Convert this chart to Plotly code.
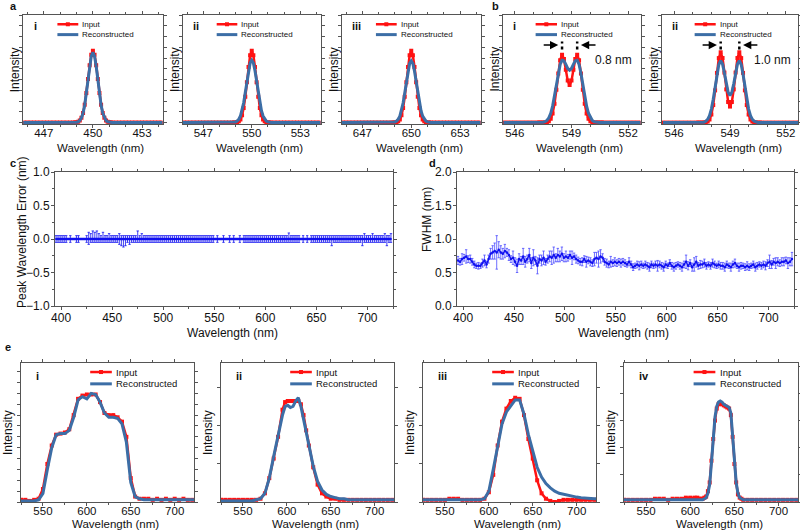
import plotly.graph_objects as go

# ---------------- data ----------------
# a: single peaks (i 450 nm, ii 550 nm, iii 650 nm)
A1_WL = [445.6, 445.8, 446.0, 446.2, 446.4, 446.6, 446.8, 447.0, 447.2, 447.4, 447.6, 447.8, 448.0, 448.2, 448.4, 448.6, 448.8,
         448.9, 449.0, 449.1, 449.2, 449.3, 449.4, 449.5, 449.6, 449.7, 449.8, 449.9, 450.0, 450.1, 450.2, 450.3, 450.4, 450.5,
         450.6, 450.7, 450.8, 450.9, 451.0, 451.1,
         451.2, 451.4, 451.6, 451.8, 452.0, 452.2, 452.4, 452.6, 452.8, 453.0, 453.2, 453.4, 453.6, 453.8, 454.0, 454.2, 454.4]
A2_WL = [545.6, 545.8, 546.0, 546.2, 546.4, 546.6, 546.8, 547.0, 547.2, 547.4, 547.6, 547.8, 548.0, 548.2, 548.4, 548.6, 548.8,
         548.9, 549.0, 549.1, 549.2, 549.3, 549.4, 549.5, 549.6, 549.7, 549.8, 549.9, 550.0, 550.1, 550.2, 550.3, 550.4, 550.5,
         550.6, 550.7, 550.8, 550.9, 551.0, 551.1,
         551.2, 551.4, 551.6, 551.8, 552.0, 552.2, 552.4, 552.6, 552.8, 553.0, 553.2, 553.4, 553.6, 553.8, 554.0, 554.2, 554.4]
A3_WL = [645.6, 645.8, 646.0, 646.2, 646.4, 646.6, 646.8, 647.0, 647.2, 647.4, 647.6, 647.8, 648.0, 648.2, 648.4, 648.6, 648.8,
         648.9, 649.0, 649.1, 649.2, 649.3, 649.4, 649.5, 649.6, 649.7, 649.8, 649.9, 650.0, 650.1, 650.2, 650.3, 650.4, 650.5,
         650.6, 650.7, 650.8, 650.9, 651.0, 651.1,
         651.2, 651.4, 651.6, 651.8, 652.0, 652.2, 652.4, 652.6, 652.8, 653.0, 653.2, 653.4, 653.6, 653.8, 654.0, 654.2, 654.4]
A1_IN = [0, 0, 0, 0, 0, 0, 0, 0, 0, 0, 0, 0, 0, 0, 0, 0, 0,
         0.001, 0.004, 0.011, 0.029, 0.066, 0.135, 0.249, 0.411, 0.607, 0.801, 0.946, 1.0, 0.946, 0.801, 0.607, 0.411, 0.249,
         0.135, 0.066, 0.029, 0.011, 0.004, 0.001,
         0, 0, 0, 0, 0, 0, 0, 0, 0, 0, 0, 0, 0, 0, 0, 0, 0]
A1_REC = [0, 0, 0, 0, 0, 0, 0, 0, 0, 0, 0, 0, 0, 0, 0, 0, 0,
          0.001, 0.004, 0.011, 0.028, 0.065, 0.132, 0.244, 0.403, 0.595, 0.785, 0.927, 0.98, 0.927, 0.785, 0.595, 0.403, 0.244,
          0.132, 0.065, 0.028, 0.011, 0.004, 0.001,
          0, 0, 0, 0, 0, 0, 0, 0, 0, 0, 0, 0, 0, 0, 0, 0, 0]
A2_IN = [0, 0, 0, 0, 0, 0, 0, 0, 0, 0, 0, 0, 0, 0, 0, 0, 0,
         0.0, 0.002, 0.006, 0.017, 0.044, 0.101, 0.203, 0.360, 0.563, 0.775, 0.938, 1.0, 0.938, 0.775, 0.563, 0.360, 0.203,
         0.101, 0.044, 0.017, 0.006, 0.002, 0.0,
         0, 0, 0, 0, 0, 0, 0, 0, 0, 0, 0, 0, 0, 0, 0, 0, 0]
A2_REC = [0, 0, 0, 0, 0, 0, 0, 0, 0, 0, 0, 0, 0, 0, 0, 0, 0.001,
          0.003, 0.009, 0.021, 0.046, 0.091, 0.166, 0.276, 0.418, 0.576, 0.724, 0.831, 0.87, 0.831, 0.724, 0.576, 0.418, 0.276,
          0.166, 0.091, 0.046, 0.021, 0.009, 0.003,
          0.001, 0, 0, 0, 0, 0, 0, 0, 0, 0, 0, 0, 0, 0, 0, 0, 0]
A3_IN = [0, 0, 0, 0, 0, 0, 0, 0, 0, 0, 0, 0, 0, 0, 0, 0, 0,
         0.0, 0.002, 0.006, 0.017, 0.044, 0.101, 0.203, 0.360, 0.563, 0.775, 0.938, 1.0, 0.938, 0.775, 0.563, 0.360, 0.203,
         0.101, 0.044, 0.017, 0.006, 0.002, 0.0,
         0, 0, 0, 0, 0, 0, 0, 0, 0, 0, 0, 0, 0, 0, 0, 0, 0]
A3_REC = [0, 0, 0, 0, 0, 0, 0, 0, 0, 0, 0, 0, 0, 0, 0, 0, 0.001,
          0.003, 0.009, 0.021, 0.046, 0.090, 0.164, 0.273, 0.413, 0.570, 0.716, 0.822, 0.86, 0.822, 0.716, 0.570, 0.413, 0.273,
          0.164, 0.090, 0.046, 0.021, 0.009, 0.003,
          0.001, 0, 0, 0, 0, 0, 0, 0, 0, 0, 0, 0, 0, 0, 0, 0, 0]
A_TICKS = [[447, 450, 453], [547, 550, 553], [647, 650, 653]]

# b: double peaks (i 0.8 nm, ii 1.0 nm separation)
B_WL = [545.4, 545.6, 545.8, 546.0, 546.2, 546.4, 546.6, 546.8, 547.0, 547.2,
        547.3, 547.4, 547.5, 547.6, 547.7, 547.8, 547.9, 548.0, 548.1, 548.2, 548.3, 548.4, 548.5, 548.6, 548.7, 548.8,
        548.9, 549.0, 549.1, 549.2, 549.3, 549.4, 549.5, 549.6, 549.7, 549.8, 549.9, 550.0, 550.1, 550.2, 550.3, 550.4,
        550.5, 550.6, 550.7,
        550.9, 551.1, 551.3, 551.5, 551.7, 551.9, 552.1, 552.3, 552.5, 552.7]
B1_IN = [0, 0, 0, 0, 0, 0, 0, 0, 0, 0,
         0, 0, 0, 0.001, 0.006, 0.019, 0.053, 0.127, 0.261, 0.458, 0.683, 0.869, 0.946, 0.886, 0.735, 0.585,
         0.523, 0.585, 0.735, 0.886, 0.946, 0.869, 0.683, 0.458, 0.261, 0.127, 0.053, 0.019, 0.006, 0.001, 0, 0,
         0, 0, 0,
         0, 0, 0, 0, 0, 0, 0, 0, 0, 0]
B1_REC = [0, 0, 0, 0, 0, 0, 0, 0, 0, 0,
          0.001, 0.002, 0.005, 0.012, 0.030, 0.066, 0.129, 0.229, 0.366, 0.527, 0.687, 0.810, 0.870, 0.863, 0.811, 0.754,
          0.731, 0.754, 0.811, 0.863, 0.870, 0.810, 0.687, 0.527, 0.366, 0.229, 0.129, 0.066, 0.030, 0.012, 0.005, 0.002,
          0.001, 0, 0,
          0, 0, 0, 0, 0, 0, 0, 0, 0, 0]
B2_IN = [0, 0, 0, 0, 0, 0, 0, 0, 0, 0,
         0, 0, 0, 0.001, 0.004, 0.014, 0.043, 0.112, 0.244, 0.449, 0.693, 0.899, 0.980, 0.900, 0.697, 0.463,
         0.287, 0.223, 0.287, 0.463, 0.697, 0.900, 0.980, 0.899, 0.693, 0.449, 0.244, 0.112, 0.043, 0.014, 0.004, 0.001,
         0, 0, 0,
         0, 0, 0, 0, 0, 0, 0, 0, 0, 0]
B2_REC = [0, 0, 0, 0, 0, 0, 0, 0, 0, 0,
          0, 0.001, 0.002, 0.006, 0.018, 0.044, 0.096, 0.188, 0.326, 0.498, 0.674, 0.810, 0.862, 0.815, 0.692, 0.542,
          0.422, 0.377, 0.422, 0.542, 0.692, 0.815, 0.862, 0.810, 0.674, 0.498, 0.326, 0.188, 0.096, 0.044, 0.018, 0.006,
          0.002, 0.001, 0,
          0, 0, 0, 0, 0, 0, 0, 0, 0, 0]
B_TICKS = [546, 549, 552]
B1_PEAKS = [548.5, 549.3]
B2_PEAKS = [548.5, 549.5]
B_LABELS = ["0.8 nm", "1.0 nm"]

# c, d: peak wavelength error and FWHM vs wavelength
CD_WL = [395, 397, 399, 401, 403, 405, 407, 409, 411, 413,
         415, 417, 419, 421, 423, 425, 427, 429, 431, 433,
         435, 437, 439, 441, 443, 445, 447, 449, 451, 453,
         455, 457, 459, 461, 463, 465, 467, 469, 471, 473,
         475, 477, 479, 481, 483, 485, 487, 489, 491, 493,
         495, 497, 499, 501, 503, 505, 507, 509, 511, 513,
         515, 517, 519, 521, 523, 525, 527, 529, 531, 533,
         535, 537, 539, 541, 543, 545, 547, 549, 551, 553,
         555, 557, 559, 561, 563, 565, 567, 569, 571, 573,
         575, 577, 579, 581, 583, 585, 587, 589, 591, 593,
         595, 597, 599, 601, 603, 605, 607, 609, 611, 613,
         615, 617, 619, 621, 623, 625, 627, 629, 631, 633,
         635, 637, 639, 641, 643, 645, 647, 649, 651, 653,
         655, 657, 659, 661, 663, 665, 667, 669, 671, 673,
         675, 677, 679, 681, 683, 685, 687, 689, 691, 693,
         695, 697, 699, 701, 703, 705, 707, 709, 711, 713,
         715, 717, 719, 721, 723]
C_ERROR = [0.0, 0.0, 0.0, 0.0, 0.0, 0.0, 0.0, 0.0, 0.0, 0.0,
           0.0, 0.0, 0.0, 0.0, 0.0, 0.0, 0.0, 0.0, 0.0, 0.0,
           0.0, 0.0, 0.0, 0.0, 0.0, 0.0, 0.0, 0.0, 0.0, 0.0,
           0.0, 0.0, 0.0, 0.0, 0.0, 0.0, 0.0, 0.0, 0.0, 0.0,
           0.0, 0.0, 0.0, 0.0, 0.0, 0.0, 0.0, 0.0, 0.0, 0.0,
           0.0, 0.0, 0.0, 0.0, 0.0, 0.0, 0.0, 0.0, 0.0, 0.0,
           0.0, 0.0, 0.0, 0.0, 0.0, 0.0, 0.0, 0.0, 0.0, 0.0,
           0.0, 0.0, 0.0, 0.0, 0.0, 0.0, 0.0, 0.0, 0.0, 0.0,
           0.0, 0.0, 0.0, 0.0, 0.0, 0.0, 0.0, 0.0, 0.0, 0.0,
           0.0, 0.0, 0.0, 0.0, 0.0, 0.0, 0.0, 0.0, 0.0, 0.0,
           0.0, 0.0, 0.0, 0.0, 0.0, 0.0, 0.0, 0.0, 0.0, 0.0,
           0.0, 0.0, 0.0, 0.0, 0.0, 0.0, 0.0, 0.0, 0.0, 0.0,
           0.0, 0.0, 0.0, 0.0, 0.0, 0.0, 0.0, 0.0, 0.0, 0.0,
           0.0, 0.0, 0.0, 0.0, 0.0, 0.0, 0.0, 0.0, 0.0, 0.0,
           0.0, 0.0, 0.0, 0.0, 0.0, 0.0, 0.0, 0.0, 0.0, 0.0,
           0.0, 0.0, 0.0, 0.0, 0.0, 0.0, 0.0, 0.0, 0.0, 0.0,
           0.0, 0.0, 0.0, 0.0, 0.0]
C_ERR_UP = [.05, .05, .05, .05, .05, .05, 0, .05, 0, 0,
            .05, .05, 0, 0, 0, .05, .10, .08, .12, .10,
            .12, .08, .05, .10, .05, .05, .08, .05, .05, .05,
            .05, .08, .05, .05, .05, .05, .05, .05, .05, .05,
            .12, .05, .08, .05, .05, .05, .05, .05, .05, .05,
            .05, .05, .05, .05, .05, .05, .05, .05, .05, .05,
            .05, .05, .05, .05, .05, .05, .05, .05, .05, .05,
            .05, .05, .05, .05, .05, .05, .05, .05, 0, .05,
            0, 0, .05, 0, 0, .05, 0, .05, 0, 0,
            .05, 0, .05, .05, .05, .05, .05, .05, .05, .05,
            .05, .05, .05, .05, .05, .05, .05, .05, .05, .05,
            .05, .05, .05, .05, .09, .05, .05, .05, .05, .05,
            0, .05, 0, .05, 0, .05, .05, .05, .05, .05,
            .05, .05, .05, .05, .05, .05, .05, .05, .05, .05,
            .05, .05, .05, .05, .05, .05, .05, .05, .05, .05,
            .05, .08, .05, .05, .05, .08, .05, .05, .05, .05,
            .05, .08, .05, .05, .08]
C_ERR_DN = [.05, .05, .05, .05, .05, .05, 0, .05, 0, 0,
            .05, .05, 0, 0, 0, .05, .08, .05, .05, .05,
            .05, .05, .05, .05, .05, .05, .05, .05, .05, .05,
            .05, .08, .10, .12, .10, .05, .08, .05, .05, .05,
            .05, .05, .05, .05, .05, .05, .05, .05, .05, .05,
            .05, .05, .05, .05, .05, .05, .05, .05, .05, .05,
            .05, .05, .05, .05, .05, .05, .05, .05, .05, .05,
            .05, .05, .05, .05, .05, .05, .05, .05, 0, .05,
            0, 0, .05, 0, 0, .05, 0, .05, 0, 0,
            .05, 0, .05, .05, .05, .05, .05, .05, .05, .05,
            .05, .05, .05, .05, .05, .05, .05, .05, .05, .05,
            .05, .05, .05, .05, .05, .05, .05, .05, .05, .05,
            0, .05, 0, .05, 0, .05, .05, .05, .05, .05,
            .05, .05, .05, .05, .05, .10, .05, .05, .05, .05,
            .05, .05, .05, .05, .05, .05, .05, .05, .05, .05,
            .10, .05, .05, .05, .05, .05, .05, .05, .05, .05,
            .05, .05, .10, .05, .05]
D_FWHM = [0.68, 0.66, 0.70, 0.72, 0.74, 0.70, 0.70, 0.66, 0.62, 0.60,
          0.60, 0.60, 0.64, 0.68, 0.62, 0.70, 0.78, 0.80, 0.82, 0.80,
          0.84, 0.80, 0.78, 0.82, 0.80, 0.76, 0.70, 0.72, 0.66, 0.60,
          0.70, 0.68, 0.74, 0.66, 0.70, 0.76, 0.64, 0.72, 0.68, 0.60,
          0.70, 0.68, 0.72, 0.66, 0.70, 0.74, 0.72, 0.76, 0.72, 0.76,
          0.74, 0.78, 0.72, 0.74, 0.72, 0.76, 0.72, 0.74, 0.70, 0.68,
          0.66, 0.66, 0.70, 0.66, 0.68, 0.66, 0.64, 0.70, 0.72, 0.70,
          0.74, 0.72, 0.66, 0.64, 0.62, 0.66, 0.64, 0.66, 0.64, 0.66,
          0.64, 0.66, 0.64, 0.62, 0.66, 0.62, 0.58, 0.60, 0.62, 0.60,
          0.62, 0.60, 0.62, 0.60, 0.58, 0.62, 0.60, 0.62, 0.60, 0.62,
          0.60, 0.58, 0.62, 0.60, 0.64, 0.60, 0.58, 0.60, 0.62, 0.60,
          0.58, 0.62, 0.66, 0.60, 0.64, 0.58, 0.62, 0.66, 0.60, 0.62,
          0.62, 0.64, 0.60, 0.62, 0.60, 0.64, 0.62, 0.60, 0.62, 0.60,
          0.60, 0.58, 0.62, 0.60, 0.58, 0.62, 0.64, 0.60, 0.58, 0.60,
          0.60, 0.58, 0.60, 0.58, 0.60, 0.62, 0.58, 0.60, 0.62, 0.60,
          0.62, 0.60, 0.64, 0.66, 0.62, 0.66, 0.64, 0.66, 0.64, 0.66,
          0.66, 0.68, 0.64, 0.66, 0.70]
D_ERR = [.06, .05, .08, .05, .10, .05, .06, .05, .05, .04,
         .05, .04, .06, .08, .05, .06, .08, .10, .12, .25,
         .12, .10, .08, .10, .06, .08, .05, .10, .06, .10,
         .08, .06, .12, .08, .06, .10, .08, .12, .06, .12,
         .06, .08, .10, .05, .06, .08, .10, .12, .06, .10,
         .08, .10, .06, .08, .05, .06, .10, .05, .06, .05,
         .05, .06, .05, .08, .05, .06, .05, .10, .08, .12,
         .10, .06, .05, .06, .05, .08, .05, .06, .05, .05,
         .06, .05, .05, .04, .06, .05, .05, .04, .05, .06,
         .05, .04, .05, .05, .06, .05, .04, .05, .08, .05,
         .05, .06, .05, .04, .05, .05, .06, .05, .04, .05,
         .06, .05, .10, .06, .05, .06, .10, .08, .05, .06,
         .05, .06, .05, .04, .05, .06, .05, .04, .05, .05,
         .05, .06, .05, .04, .06, .05, .06, .04, .06, .05,
         .04, .05, .06, .05, .04, .05, .06, .05, .04, .05,
         .05, .06, .05, .10, .06, .05, .08, .06, .05, .06,
         .06, .05, .08, .06, .10]

# e: broadband spectra
E_WL = [525, 530, 535, 540, 545, 550, 555, 560, 565, 570,
        575, 580, 585, 590, 595, 600, 605, 610, 615, 620,
        625, 630, 635, 640, 645, 650, 655, 660, 665, 670,
        675, 680, 685, 690, 695, 700, 705, 710, 715, 720, 725]
E1_IN = [.02, .02, .01, .02, .03, .12, .35, .52, .62, .63,
         .64, .67, .80, .95, .98, .99, .99, .99, .92, .82,
         .80, .80, .78, .74, .60, .22, .05, .03, .03, .03,
         .02, .03, .02, .03, .02, .03, .02, .03, .02, .02, .02]
E1_REC = [.01, .01, .01, .01, .02, .08, .30, .50, .62, .63,
          .63, .66, .78, .94, .97, .95, 1.0, .99, .92, .82,
          .78, .78, .77, .72, .55, .18, .05, .03, .02, .02,
          .02, .02, .02, .02, .02, .02, .02, .02, .02, .02, .02]
E2_WL = [525, 530, 535, 540, 545, 550, 555, 560, 565, 570, 575, 580, 585, 590, 595,
         598, 601, 604, 607, 610, 613, 616, 619, 622, 625,
         630, 635, 640, 645, 650, 655, 660, 665, 670, 675, 680, 685, 690, 695, 700, 705, 710, 715, 720, 725]
E2_IN = [.02, .02, .02, .02, .02, .02, .02, .02, .02, .03, .08, .22, .40, .60, .85,
         .92, .93, .93, .93, .93, .93, .90, .80, .66, .52,
         .32, .16, .08, .05, .03, .03, .02, .02, .02, .02, .02, .02, .02, .02, .02, .02, .02, .02, .02, .02]
E2_REC = [.01, .01, .01, .01, .01, .01, .01, .01, .02, .03, .08, .22, .42, .62, .80,
          .88, .89, .87, .88, .93, .96, .88, .76, .63, .52,
          .33, .19, .11, .07, .05, .04, .03, .03, .02, .02, .02, .02, .02, .02, .02, .02, .02, .02, .02, .02]
E3_IN = [.02, .02, .02, .02, .02, .02, .03, .03, .03, .02,
         .02, .02, .02, .02, .03, .09, .25, .52, .74, .86,
         .93, .96, .95, .80, .58, .40, .20, .08, .03, .01,
         .00, .01, .02, .02, .02, .02, .02, .02, .02, .02, .02]
E3_REC = [.02, .02, .02, .02, .02, .02, .02, .02, .02, .02,
          .02, .02, .02, .02, .03, .10, .30, .52, .72, .83,
          .89, .94, .94, .81, .62, .46, .32, .23, .17, .13,
          .10, .08, .07, .06, .05, .045, .04, .035, .03, .03, .03]
E4_WL = [525, 530, 535, 540, 545, 550, 555, 560, 565, 570, 575, 580, 585, 590, 595, 600, 605,
         608, 610, 612, 614, 616, 618, 620, 622, 624, 626, 628, 630, 632, 634, 636, 638, 640, 642, 644,
         646, 648, 650, 652, 654, 656, 658, 660,
         665, 670, 675, 680, 685, 690, 695, 700, 705, 710, 715, 720, 725]
E4_IN = [.02, .02, .02, .02, .02, .02, .02, .03, .03, .03, .02, .03, .03, .03, .04, .04, .04,
         .04, .03, .03, .03, .04, .05, .10, .18, .38, .58, .75, .86, .90, .91, .90, .89, .88, .87, .86,
         .80, .60, .35, .18, .07, .04, .03, .02,
         .02, .02, .02, .02, .02, .02, .02, .02, .02, .02, .02, .02, .02]
E4_REC = [.02, .02, .02, .02, .02, .02, .02, .02, .02, .02, .02, .02, .02, .02, .02, .02, .02,
          .02, .02, .02, .02, .03, .04, .08, .16, .36, .58, .78, .88, .92, .93, .92, .90, .89, .88, .87,
          .82, .62, .36, .18, .08, .04, .03, .02,
          .02, .02, .02, .02, .02, .02, .02, .02, .02, .02, .02, .02, .02]
E_TICKS = [550, 600, 650, 700]

SERIES_NAMES = ["Input", "Reconstructed"]
ROMAN = ["i", "ii", "iii", "iv"]

# ---------------- styling ----------------
RED = "#ff1212"
BLUE = "#3c6ea6"
PURE = "#1010f0"
AXC = "#555555"
TXT = "#111111"
FONT = "Liberation Sans, Arial, sans-serif"

W, H = 800, 531

# panel boxes in pixels: (left, right, top, bottom)
BOX = {
    1: (23.3, 162.5, 15, 124), 2: (183, 320.5, 15, 124), 3: (342, 480.5, 15, 124),
    4: (502.5, 640.5, 15, 124), 5: (662, 798, 15, 124),
    6: (55, 393, 172, 306), 7: (457, 794, 172, 306),
    8: (21, 194, 363, 502), 9: (221, 394, 363, 502), 10: (423, 596, 363, 502), 11: (624, 798, 363, 502),
}

fig = go.Figure()


def xn(n):
    return "x" if n == 1 else f"x{n}"


def yn(n):
    return "y" if n == 1 else f"y{n}"


def axis_base():
    return dict(showline=True, linecolor=AXC, linewidth=1, mirror="ticks", ticks="outside",
                tickcolor=AXC, ticklen=3, tickwidth=1, showgrid=False, zeroline=False, automargin=False,
                tickfont=dict(size=12, color=TXT, family=FONT))


layout_axes = {}
shapes = []
annotations = []


def add_pair(n, wl_in, y_in, wl_rec, y_rec, msize):
    fig.add_trace(go.Scatter(x=wl_in, y=y_in, name=SERIES_NAMES[0], mode="lines+markers",
                             line=dict(color=RED, width=2.5),
                             marker=dict(symbol="square", size=msize, color=RED),
                             xaxis=xn(n), yaxis=yn(n), showlegend=False))
    fig.add_trace(go.Scatter(x=wl_rec, y=y_rec, name=SERIES_NAMES[1], mode="lines",
                             line=dict(color=BLUE, width=3),
                             xaxis=xn(n), yaxis=yn(n), showlegend=False))


def add_legend(n, lx0, lx1, tx, ry1, ry2, fs):
    xr, yr = f"{xn(n)} domain", f"{yn(n)} domain"
    for name, col, ry, mk in [(SERIES_NAMES[0], RED, ry1, True), (SERIES_NAMES[1], BLUE, ry2, False)]:
        shapes.append(dict(type="line", xref=xr, yref=yr, x0=lx0, x1=lx1, y0=ry, y1=ry,
                           line=dict(color=col, width=2.5 if mk else 3)))
        if mk:
            shapes.append(dict(type="rect", xref=xr, yref=yr, xsizemode="pixel", ysizemode="pixel",
                               xanchor=(lx0 + lx1) / 2, yanchor=ry, x0=-2, x1=2, y0=-2, y1=2,
                               fillcolor=col, line=dict(width=0)))
        annotations.append(dict(xref=xr, yref=yr, x=tx, y=ry, text=name, showarrow=False,
                                xanchor="left", yanchor="middle",
                                font=dict(size=fs, color=TXT, family=FONT)))


def add_roman(n, label, rx, ry, fs):
    annotations.append(dict(xref=f"{xn(n)} domain", yref=f"{yn(n)} domain", x=rx, y=ry,
                            text=f"<b>{label}</b>", showarrow=False, xanchor="left", yanchor="middle",
                            font=dict(size=fs, color=TXT, family=FONT)))


def add_titles(n, xt_y, yt_dx, yt_y=None, ytext="Intensity", xshift=8, xfs=12):
    l, r, t, b = BOX[n]
    annotations.append(dict(xref="paper", yref="paper", x=(l + r) / 2 / W, y=1 - xt_y / H, xshift=xshift,
                            text="Wavelength (nm)", showarrow=False, xanchor="center", yanchor="middle",
                            font=dict(size=xfs, color=TXT, family=FONT)))
    cy = (t + b) / 2 if yt_y is None else yt_y
    annotations.append(dict(xref="paper", yref="paper", x=(l + yt_dx) / W, y=1 - cy / H, textangle=-90,
                            text=ytext, showarrow=False, xanchor="center", yanchor="middle",
                            font=dict(size=12, color=TXT, family=FONT)))


def set_axes(n, xa, ya):
    l, r, t, b = BOX[n]
    xa.update(domain=[l / W, r / W], anchor=yn(n))
    ya.update(domain=[1 - b / H, 1 - t / H], anchor=xn(n))
    layout_axes["xaxis" if n == 1 else f"xaxis{n}"] = xa
    layout_axes["yaxis" if n == 1 else f"yaxis{n}"] = ya


def small_axes(n, xrange, ticks, yr, ydt):
    xa = axis_base()
    xa.update(range=xrange, tickmode="array", tickvals=ticks, ticklabelstandoff=-5,
              tickfont=dict(size=11.5, color=TXT, family=FONT),
              minor=dict(dtick=1, ticklen=2, tickcolor=AXC, ticks="outside"))
    ya = axis_base()
    ya.update(range=yr, showticklabels=False, dtick=ydt, tick0=0)
    set_axes(n, xa, ya)
    add_titles(n, 147.5, -8.5, xfs=11.5)


# ---- panel a ----
A_SETS = [(A1_WL, A1_IN, A1_REC), (A2_WL, A2_IN, A2_REC), (A3_WL, A3_IN, A3_REC)]
for k, (wl, yi, yrc) in enumerate(A_SETS):
    n = k + 1
    add_pair(n, wl, yi, wl, yrc, 4)
    c = A_TICKS[k][1]
    small_axes(n, [c - 4.25, c + 4.25], A_TICKS[k], [-0.02, 1.5], 0.15)
    add_legend(n, 0.245, 0.395, 0.41, 0.915, 0.82, 8)
    add_roman(n, ROMAN[k], 0.06, 0.9, 11)

# ---- panel b ----
B_SETS = [(B1_IN, B1_REC, B1_PEAKS), (B2_IN, B2_REC, B2_PEAKS)]
for k, (yi, yrc, pk) in enumerate(B_SETS):
    n = k + 4
    add_pair(n, B_WL, yi, B_WL, yrc, 4)
    small_axes(n, [545.35, 552.65], B_TICKS, [-0.02, 1.5], 0.15)
    add_legend(n, 0.24, 0.395, 0.41, 0.915, 0.82, 8)
    add_roman(n, ROMAN[k], 0.06, 0.9, 11)
    for p in pk:
        shapes.append(dict(type="line", xref=xn(n), yref=yn(n), x0=p, x1=p, y0=1.02, y1=1.13,
                           line=dict(color="black", width=2.5, dash="dot")))
    annotations.append(dict(xref=xn(n), yref=yn(n), axref=xn(n), ayref=yn(n),
                            x=pk[0] - 0.2, y=1.08, ax=pk[0] - 1.05, ay=1.08, text="", showarrow=True,
                            arrowhead=2, arrowsize=1.1, arrowwidth=1.5, arrowcolor="black"))
    annotations.append(dict(xref=xn(n), yref=yn(n), axref=xn(n), ayref=yn(n),
                            x=pk[1] + 0.2, y=1.08, ax=pk[1] + 1.05, ay=1.08, text="", showarrow=True,
                            arrowhead=2, arrowsize=1.1, arrowwidth=1.5, arrowcolor="black"))
    annotations.append(dict(xref=xn(n), yref=yn(n), x=551.2 + 0.1 * k, y=0.87, text=B_LABELS[k],
                            showarrow=False, font=dict(size=12, color=TXT, family=FONT)))

# ---- panel c ----
fig.add_trace(go.Scatter(x=CD_WL, y=C_ERROR, mode="lines+markers", xaxis="x6", yaxis="y6", showlegend=False,
                         line=dict(color=PURE, width=2.5), marker=dict(size=2, color=PURE),
                         error_y=dict(type="data", symmetric=False, array=C_ERR_UP, arrayminus=C_ERR_DN,
                                      color=PURE, thickness=0.8, width=1.2)))
# ---- panel d ----
fig.add_trace(go.Scatter(x=CD_WL, y=D_FWHM, mode="lines+markers", xaxis="x7", yaxis="y7", showlegend=False,
                         line=dict(color=PURE, width=1.3), marker=dict(size=2.5, color=PURE),
                         error_y=dict(type="data", array=D_ERR, color="#4a4aff", thickness=0.8, width=1.2)))

for n, yr, ytitle, ydx, ycy, xsh in [(6, [-1.0, 1.0], "Peak Wavelength Error (nm)", -33, 232, 8),
                                     (7, [0.0, 2.0], "FWHM (nm)", -30, 219, -2)]:
    xa = axis_base()
    xa.update(range=[394, 725], dtick=50, tick0=400, ticklabelstandoff=-2,
              minor=dict(dtick=25, ticklen=2, tickcolor=AXC, ticks="outside"))
    ya = axis_base()
    ya.update(range=yr, dtick=0.5, tick0=0, tickformat=".1f", ticklabelstandoff=-1,
              minor=dict(dtick=0.25, ticklen=2, tickcolor=AXC, ticks="outside"))
    set_axes(n, xa, ya)
    add_titles(n, 333, ydx, ycy, ytitle, xsh)

# ---- panel e ----
E_SETS = [(E_WL, E1_IN, E1_REC, 0.1), (E2_WL, E2_IN, E2_REC, 0.35), (E_WL, E3_IN, E3_REC, 0.35),
          (E4_WL, E4_IN, E4_REC, 0.25)]
for k, (wl, yi, yrc, ydt) in enumerate(E_SETS):
    n = k + 8
    add_pair(n, wl, yi, wl, yrc, 4)
    xa = axis_base()
    xa.update(range=[525, 722], tickmode="array", tickvals=E_TICKS, ticklabelstandoff=-5,
              tickfont=dict(size=11.5, color=TXT, family=FONT),
              minor=dict(dtick=25, ticklen=2, tickcolor=AXC, ticks="outside"))
    ya = axis_base()
    ya.update(range=[0, 1.28], showticklabels=False, dtick=ydt, tick0=0)
    set_axes(n, xa, ya)
    add_titles(n, 524, -13.5, xfs=11.5)
    add_legend(n, 0.40, 0.525, 0.54, 0.935, 0.85, 9.5)
    add_roman(n, ROMAN[k], 0.075, 0.905, 11)

# ---- panel letters ----
for lab, px, py in [("a", 8, 6), ("b", 490, 6), ("c", 8, 163), ("d", 427, 163), ("e", 3, 347)]:
    annotations.append(dict(xref="paper", yref="paper", x=px / W, y=1 - py / H, text=f"<b>{lab}</b>",
                            showarrow=False, xanchor="left", yanchor="middle",
                            font=dict(size=11, color=TXT, family=FONT)))

fig.update_layout(width=W, height=H, margin=dict(l=0, r=0, t=0, b=0, autoexpand=False), autosize=False,
                  paper_bgcolor="white", plot_bgcolor="white", showlegend=False,
                  font=dict(family=FONT, color=TXT),
                  shapes=shapes, annotations=annotations, **layout_axes)

fig.write_html("out.html", config={"displayModeBar": False},
               post_script="document.body.style.margin='0';document.body.style.overflow='hidden';")
